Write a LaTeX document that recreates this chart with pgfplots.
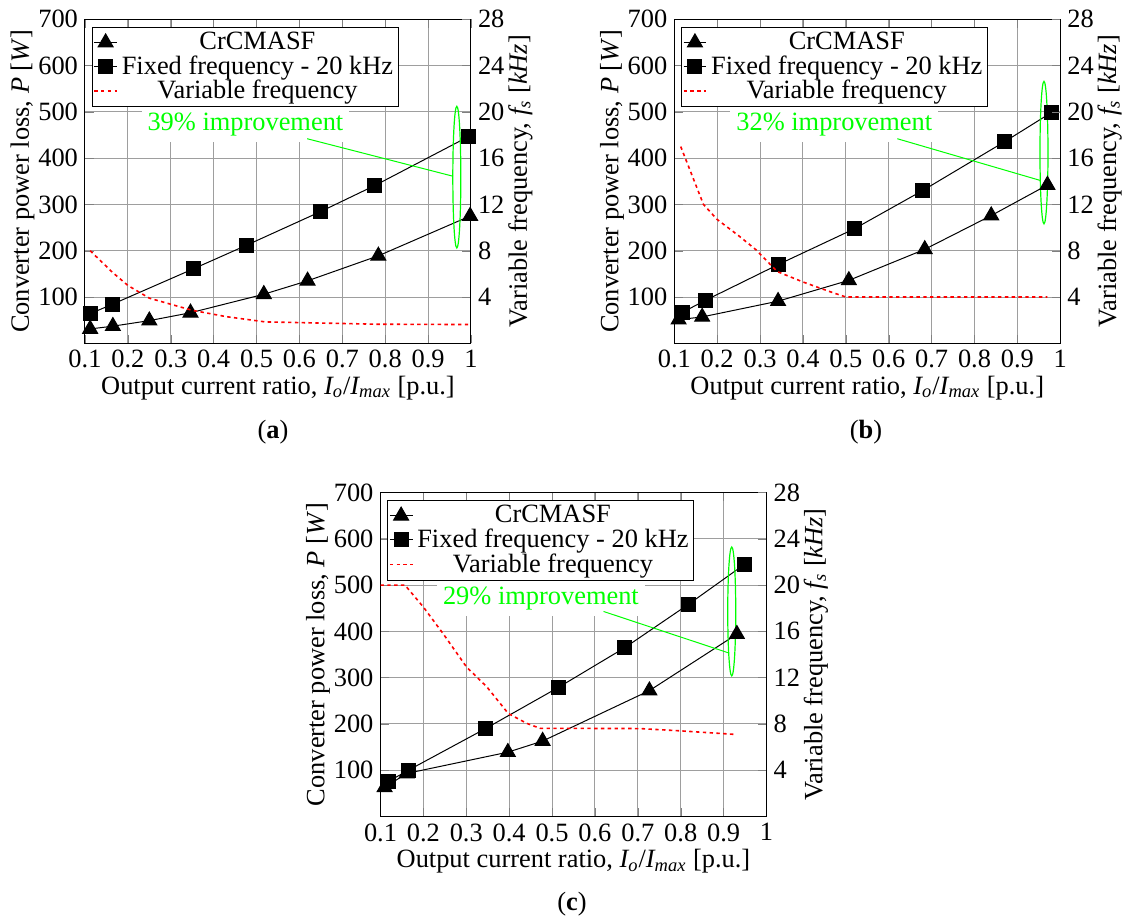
\documentclass[border=0pt]{standalone}
\usepackage{fontspec}
\setmainfont{Liberation Serif}
\usepackage{pgfplots}
\pgfplotsset{compat=1.18}

\pgfplotsset{
  leftax/.style={
    scale only axis, width=193pt, height=162pt,
    anchor=south west, clip=false,
    xmin=0.1, xmax=1, ymin=0, ymax=700,
    xtick={0.1,0.2,0.3,0.4,0.5,0.6,0.7,0.8,0.9,1},
    xticklabels={0.1,0.2,0.3,0.4,0.5,0.6,0.7,0.8,0.9,1},
    ytick={100,200,300,400,500,600,700},
    yticklabels={100,200,300,400,500,600,700},
    grid=major, major grid style={black!38, line width=0.5pt},
    axis line style={line width=0.5pt},
    xlabel={Output current ratio, \textit{I\textsubscript{o}}/\textit{I\textsubscript{max}} [p.u.]},
    ylabel={Converter power loss, \textit{P} [\textit{W}]},
    xlabel shift=-3pt, ylabel shift=-5pt,
    legend cell align=center,
    legend style={at={(0.018,0.977)}, anchor=north west, draw=black, fill=white,
      line width=0.5pt, inner sep=0.5pt, row sep=-2.5pt, font=\fontsize{13.2}{14}\selectfont},
    legend image code/.code={\draw[mark repeat=2,mark phase=2,#1] plot coordinates {(0cm,0cm) (0.2cm,0cm) (0.4cm,0cm)};},
  },
  rightax/.style={
    scale only axis, width=193pt, height=162pt,
    anchor=south west,
    xmin=0.1, xmax=1, ymin=0, ymax=28,
    axis y line*=right, axis x line=none,
    axis line style={line width=0.5pt},
    ytick={4,8,12,16,20,24,28},
    yticklabels={4,8,12,16,20,24,28},
    ylabel={Variable frequency, \textit{f\textsubscript{s}} [\textit{kHz}]},
    ylabel shift=-5pt,
  },
  tri/.style={black, line width=0.5pt, mark=triangle*, mark size=4.3pt, mark options={solid, fill=black}},
  sq/.style={black, line width=0.5pt, mark=square*, mark size=3.5pt, mark options={solid, fill=black}},
  vf/.style={red, line width=0.8pt, dash pattern=on 1.7pt off 1.7pt},
}

\begin{document}
\begin{tikzpicture}[font=\fontsize{13.2}{15.5}\selectfont]
\useasboundingbox (0,0) rectangle (562.5pt,459pt);

% ---------------- (a) ----------------
\begin{axis}[leftax, at={(42.5pt,287.35pt)}]
\addplot[tri] coordinates {(0.112,31) (0.165,37) (0.25,49) (0.346,66) (0.517,106) (0.619,135) (0.784,189) (0.998,275)};
\addplot[sq] coordinates {(0.112,64) (0.163,84) (0.353,161) (0.477,212) (0.648,284) (0.776,341) (0.995,447)};
\addlegendimage{vf}
\legend{CrCMASF, Fixed frequency - 20 kHz, Variable frequency}
\node[fill=white, text=green, inner sep=3pt] at (axis cs:0.474,472) {39\% improvement};
\draw[green, line width=0.5pt] (axis cs:0.618,442) -- (axis cs:0.958,361);
\draw[green, line width=0.6pt] (axis cs:0.967,359) ellipse [x radius=2pt, y radius=35.4pt];
\end{axis}
\begin{axis}[rightax, at={(42.5pt,287.35pt)}]
\addplot[vf] coordinates {(0.112,8.0) (0.165,6.1) (0.20,5.0) (0.25,3.9) (0.35,2.85) (0.43,2.3) (0.52,1.85) (0.78,1.65) (1.0,1.62)};
\end{axis}

% ---------------- (b) ----------------
\begin{axis}[leftax, at={(337.15pt,287.35pt)}]
\addplot[tri] coordinates {(0.110,51) (0.165,57) (0.342,91) (0.507,136) (0.684,203) (0.839,276) (0.97,342)};
\addplot[sq] coordinates {(0.119,67) (0.173,93) (0.342,170) (0.519,247) (0.679,330) (0.871,436) (0.98,499)};
\addlegendimage{vf}
\legend{CrCMASF, Fixed frequency - 20 kHz, Variable frequency}
\node[fill=white, text=green, inner sep=3pt] at (axis cs:0.473,472) {32\% improvement};
\draw[green, line width=0.5pt] (axis cs:0.62,442) -- (axis cs:0.953,352);
\draw[green, line width=0.6pt] (axis cs:0.962,412) ellipse [x radius=2pt, y radius=35.6pt];
\end{axis}
\begin{axis}[rightax, at={(337.15pt,287.35pt)}]
\addplot[vf] coordinates {(0.115,17.0) (0.168,12.0) (0.2,10.7) (0.25,9.3) (0.29,8.1) (0.34,6.2) (0.40,5.3) (0.46,4.5) (0.5,4.0) (0.97,4.0)};
\end{axis}

% ---------------- (c) ----------------
\begin{axis}[leftax, at={(190.25pt,50.75pt)}]
\addplot[tri] coordinates {(0.1095,63) (0.161,93) (0.397,139) (0.478,163) (0.727,272) (0.931,394)};
\addplot[sq] coordinates {(0.119,76) (0.165,100) (0.345,190) (0.515,279) (0.670,365) (0.819,459) (0.949,545)};
\addlegendimage{vf}
\legend{CrCMASF, Fixed frequency - 20 kHz, Variable frequency}
\node[fill=white, text=green, inner sep=3pt] at (axis cs:0.474,472) {29\% improvement};
\draw[green, line width=0.5pt] (axis cs:0.62,443) -- (axis cs:0.910,354);
\draw[green, line width=0.6pt] (axis cs:0.919,443) ellipse [x radius=2pt, y radius=32.2pt];
\end{axis}
\begin{axis}[rightax, at={(190.25pt,50.75pt)}]
\addplot[vf] coordinates {(0.1,20) (0.157,20) (0.2,18.1) (0.246,15.8) (0.301,12.9) (0.348,11.2) (0.398,8.9) (0.441,8.05) (0.472,7.62) (0.705,7.6) (0.80,7.4) (0.925,7.1)};
\end{axis}

\node at (136.5pt,243pt) {(\textbf{a})};
\node at (433pt,243pt) {(\textbf{b})};
\node at (286pt,7pt) {(\textbf{c})};
\end{tikzpicture}
\end{document}
